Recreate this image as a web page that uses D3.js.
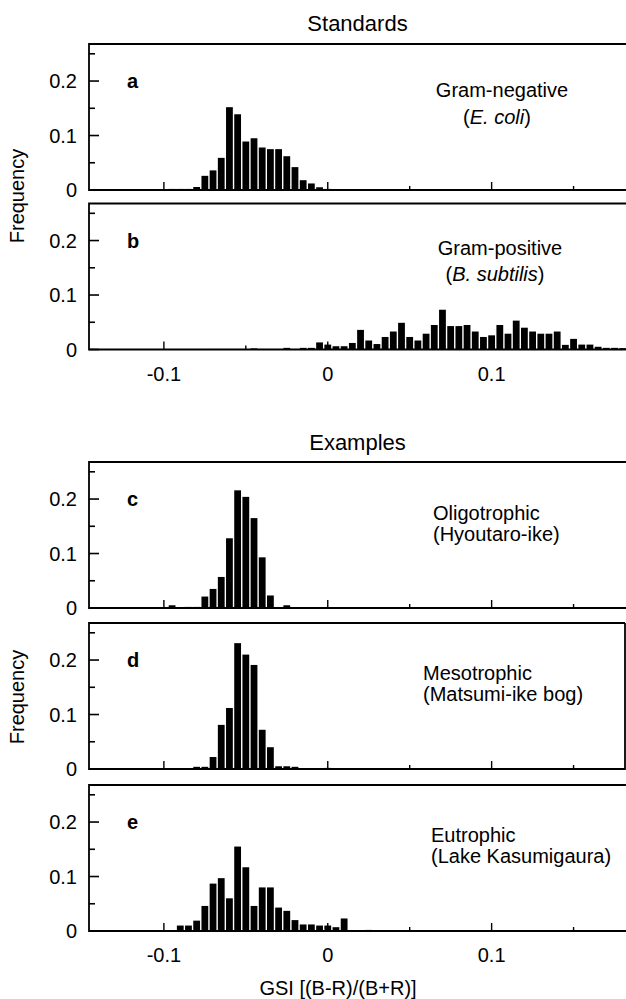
<!DOCTYPE html>
<meta charset="utf-8">
<script src="https://d3js.org/d3.v7.min.js"></script>
<style>
  body { margin: 0; background: #fff; }
  text { font-family: "Liberation Sans", Arial, sans-serif; fill: #000; }
</style>
<div id="vis"></div>
<script>

// GSI bin centres step by 0.005, frequencies
var binWidth = 0.005;

var aStart = -0.105;
var aFreq = [0.001, 0.001, 0.002, 0.002, 0.002, 0.0055, 0.026, 0.036, 0.059, 0.152, 0.139,
             0.089, 0.095, 0.078, 0.075, 0.075, 0.062, 0.042, 0.018, 0.012, 0.005, 0.002];

var bStart = -0.07;
var bFreq = [0.001, 0.001, 0.001, 0.001, 0.001, 0.002, 0.001, 0.001, 0.001,
             0.003, 0.001, 0.003, 0.003, 0.013, 0.009, 0.006, 0.006, 0.012, 0.036,
             0.0165, 0.010, 0.023, 0.033, 0.049, 0.023, 0.0165, 0.029, 0.045, 0.073,
             0.043, 0.043, 0.045, 0.033, 0.023, 0.026, 0.045, 0.029, 0.053, 0.040,
             0.033, 0.029, 0.029, 0.033, 0.0085, 0.0195, 0.009, 0.009, 0.005, 0.003,
             0.003, 0.0025];

var cStart = -0.095;
var cFreq = [0.005, 0, 0.002, 0.002, 0.021, 0.035, 0.057, 0.128, 0.216, 0.204,
             0.165, 0.093, 0.023, 0, 0.005];

var dStart = -0.08;
var dFreq = [0.004, 0.004, 0.022, 0.081, 0.112, 0.231, 0.210, 0.191, 0.072, 0.040,
             0.005, 0.005, 0.004, 0, 0, 0, 0.002];

var eStart = -0.09;
var eFreq = [0.010, 0.010, 0.019, 0.046, 0.087, 0.097, 0.060, 0.155, 0.117, 0.046,
             0.080, 0.080, 0.043, 0.037, 0.020, 0.012, 0.012, 0.010, 0.010, 0.007,
             0.023, 0, 0, 0.002];

var panelLetters = ["a", "b", "c", "d", "e"];
var panelLines = [
  ["Gram-negative", "(<i>E. coli</i>)"],
  ["Gram-positive", "(<i>B. subtilis</i>)"],
  ["Oligotrophic", "(Hyoutaro-ike)"],
  ["Mesotrophic", "(Matsumi-ike bog)"],
  ["Eutrophic", "(Lake Kasumigaura)"]
];
var yTicks = [0, 0.05, 0.1, 0.15, 0.2, 0.25];
var yTickLabels = ["0", "0.1", "0.2"];
var xTicks = [-0.1, -0.05, 0, 0.05, 0.1, 0.15];
var xTickLabels = ["-0.1", "0", "0.1"];

var width = 626, height = 999;

var svg = d3.select("#vis")
  .append("svg")
    .attr("width", width)
    .attr("height", height);

// shared GSI scale
var x = d3.scaleLinear()
  .domain([-0.1457, 0.182])
  .range([89, 626]);

var panels = [
  {start: aStart, freq: aFreq, top: 44, right: 632, labelsBelow: false, centred: true, lx: 502, ly: [97, 124]},
  {start: bStart, freq: bFreq, top: 203.5, right: 632, labelsBelow: true, centred: true, lx: 500, ly: [255, 281]},
  {start: cStart, freq: cFreq, top: 462, right: 632, labelsBelow: false, centred: false, lx: 433, ly: [520, 541]},
  {start: dStart, freq: dFreq, top: 623, right: 625, labelsBelow: false, centred: false, lx: 423, ly: [680, 701]},
  {start: eStart, freq: eFreq, top: 785, right: 632, labelsBelow: true, centred: false, lx: 431, ly: [842, 863]}
];
var panelH = 146;

panels.forEach(function(p, k) {
  var bottom = p.top + panelH;
  var y = d3.scaleLinear()
    .domain([0, 0.268])
    .range([bottom, p.top]);

  var g = svg.append("g");

  var bins = p.freq.map(function(f, i) { return {gsi: p.start + i * binWidth, f: f}; })
    .filter(function(d) { return d.f > 0; });

  var bw = x(binWidth) - x(0);
  g.selectAll("rect.bar")
    .data(bins)
    .enter()
    .append("rect")
      .attr("class", "bar")
      .attr("x", function(d) { return x(d.gsi - binWidth / 2) + 0.7; })
      .attr("width", bw - 1.4)
      .attr("y", function(d) { return y(d.f); })
      .attr("height", function(d) { return bottom - y(d.f); })
      .style("fill", "#000");

  // y ticks (inside)
  g.selectAll("line.yt")
    .data(yTicks)
    .enter()
    .append("line")
      .attr("x1", x.range()[0])
      .attr("x2", function(d) { return x.range()[0] + (Math.round(d * 100) % 10 === 0 ? 10 : 6); })
      .attr("y1", function(d) { return y(d); })
      .attr("y2", function(d) { return y(d); })
      .style("stroke", "#000")
      .style("stroke-width", 1.6);

  g.selectAll("text.yl")
    .data(yTickLabels)
    .enter()
    .append("text")
      .attr("x", 77)
      .attr("y", function(d) { return y(+d) + 7; })
      .style("text-anchor", "end")
      .style("font-size", "20px")
      .text(function(d) { return d; });

  // x ticks (inside, pointing up)
  g.selectAll("line.xt")
    .data(xTicks)
    .enter()
    .append("line")
      .attr("x1", function(d) { return x(d); })
      .attr("x2", function(d) { return x(d); })
      .attr("y1", bottom)
      .attr("y2", function(d) { return bottom - (Math.abs(Math.round(d * 100)) % 10 === 0 ? 8 : 4); })
      .style("stroke", "#000")
      .style("stroke-width", 1.4);

  if (p.labelsBelow) {
    g.selectAll("text.xl")
      .data(xTickLabels)
      .enter()
      .append("text")
        .attr("x", function(d) { return x(+d); })
        .attr("y", bottom + 31)
        .style("text-anchor", "middle")
        .style("font-size", "20px")
        .text(function(d) { return d; });
  }

  // frame
  g.append("path")
    .attr("d", "M" + p.right + "," + p.top + "H" + x.range()[0] + "V" + bottom + "H" + p.right + (p.right < 630 ? "V" + p.top : ""))
    .style("fill", "none")
    .style("stroke", "#000")
    .style("stroke-width", 1.8);

  // panel letter
  g.append("text")
    .attr("x", 127)
    .attr("y", p.top + 44)
    .style("font-size", "20px")
    .style("font-weight", "bold")
    .text(panelLetters[k]);

  // description
  panelLines[k].forEach(function(line, j) {
    g.append("text")
      .attr("x", p.centred ? p.lx - (j === 1 ? 5 : 0) : p.lx)
      .attr("y", p.ly[j])
      .style("text-anchor", p.centred ? "middle" : "start")
      .style("font-size", "20px")
      .html(line.replace(/<i>/g, '<tspan font-style="italic">').replace(/<\/i>/g, "</tspan>"));
  });
});

// group titles
svg.append("text")
  .attr("x", (x.range()[0] + x.range()[1]) / 2)
  .attr("y", 31)
  .style("text-anchor", "middle")
  .style("font-size", "22px")
  .text("Standards");

svg.append("text")
  .attr("x", (x.range()[0] + x.range()[1]) / 2)
  .attr("y", 450)
  .style("text-anchor", "middle")
  .style("font-size", "22px")
  .text("Examples");

// axis titles
[196, 697].forEach(function(cy) {
  svg.append("text")
    .attr("transform", "translate(24," + cy + ") rotate(-90)")
    .style("text-anchor", "middle")
    .style("font-size", "20px")
    .text("Frequency");
});

svg.append("text")
  .attr("x", 338)
  .attr("y", 995)
  .style("text-anchor", "middle")
  .style("font-size", "20px")
  .text("GSI [(B-R)/(B+R)]");

</script>
